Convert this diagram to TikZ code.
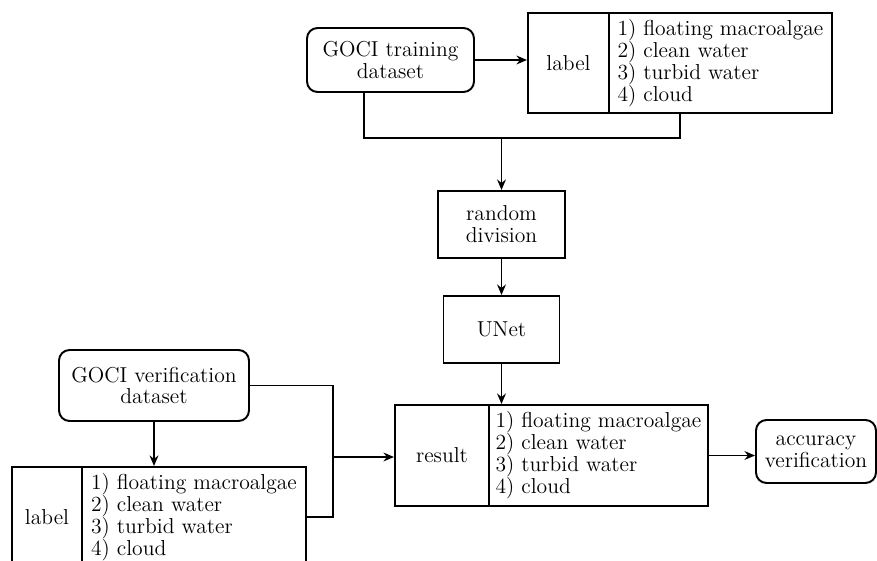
\documentclass[tikz,border=0pt]{standalone}
\usepackage{tikz}
\usetikzlibrary{arrows.meta, positioning, calc}

\begin{document}
\begin{tikzpicture}[x=0.02cm, y=-0.02cm,
    every node/.style={font=\fontsize{12.3}{12.5}\selectfont},
    databox/.style={rectangle, rounded corners=6pt, draw, line width=1.1pt, align=center, inner sep=2pt},
    cellbox/.style={rectangle, draw, line width=1.1pt, align=center, inner sep=2pt},
    listbox/.style={rectangle, draw, line width=1.1pt, align=left, inner sep=2pt},
    link/.style={line width=1.1pt},
    flow/.style={line width=1.1pt, -{Stealth[length=6pt, width=5pt]}}
]
\useasboundingbox (0,0) rectangle (877,561);

% Training branch
\node[databox, minimum width=3.34cm, minimum height=1.28cm] (train) at (390.5,60) {GOCI training\\dataset};
\node[cellbox, minimum width=1.62cm, minimum height=2cm] (tlab) at (568.5,63) {label};
\node[listbox, minimum width=4.46cm, minimum height=2cm] (tlist) at (720.5,63)
    {1) floating macroalgae\\2) clean water\\3) turbid water\\4) cloud};

% Processing chain
\node[cellbox, minimum width=2.54cm, minimum height=1.34cm] (rdiv) at (501.5,224.5) {random\\division};
\node[cellbox, minimum width=2.32cm, minimum height=1.34cm] (unet) at (501.5,329.5) {UNet};

% Result
\node[cellbox, minimum width=1.88cm, minimum height=2.02cm] (rlab) at (442,455.5) {result};
\node[listbox, minimum width=4.38cm, minimum height=2.02cm] (rlist) at (598.5,455.5)
    {1) floating macroalgae\\2) clean water\\3) turbid water\\4) cloud};
\node[databox, minimum width=2.4cm, minimum height=1.26cm] (acc) at (816,451.5) {accuracy\\verification};

% Verification branch
\node[databox, minimum width=3.8cm, minimum height=1.42cm] (verif) at (154,385.5) {GOCI verification\\dataset};
\node[cellbox, minimum width=1.4cm, minimum height=2cm] (blab) at (47,517) {label};
\node[listbox, minimum width=4.48cm, minimum height=2cm] (blist) at (194,517)
    {1) floating macroalgae\\2) clean water\\3) turbid water\\4) cloud};

% Junction points
\coordinate (j1) at (364,138);
\coordinate (j2) at (680,138);
\coordinate (j3) at (501.5,138);
\coordinate (j4) at (333,517);
\coordinate (j5) at (333,457);

% Connectors
\draw[flow] (train.east) -- (train.east -| tlab.west);
\draw[link] (train.south -| j1) |- (j2) -- (tlist.south -| j2);
\draw[flow] (j3) -- (rdiv.north);
\draw[flow] (rdiv.south) -- (unet.north);
\draw[flow] (unet.south) -- (unet.south |- rlist.north);
\draw[flow] (rlist.east) -- (rlist.east -| acc.west);
\draw[flow, line width=1.6pt] (verif.south) -- (verif.south |- blist.north);
\draw[link] (verif.east) -| (j4) -- (blist.east);
\draw[flow] (j5) -- (j5 -| rlab.west);

\end{tikzpicture}
\end{document}
